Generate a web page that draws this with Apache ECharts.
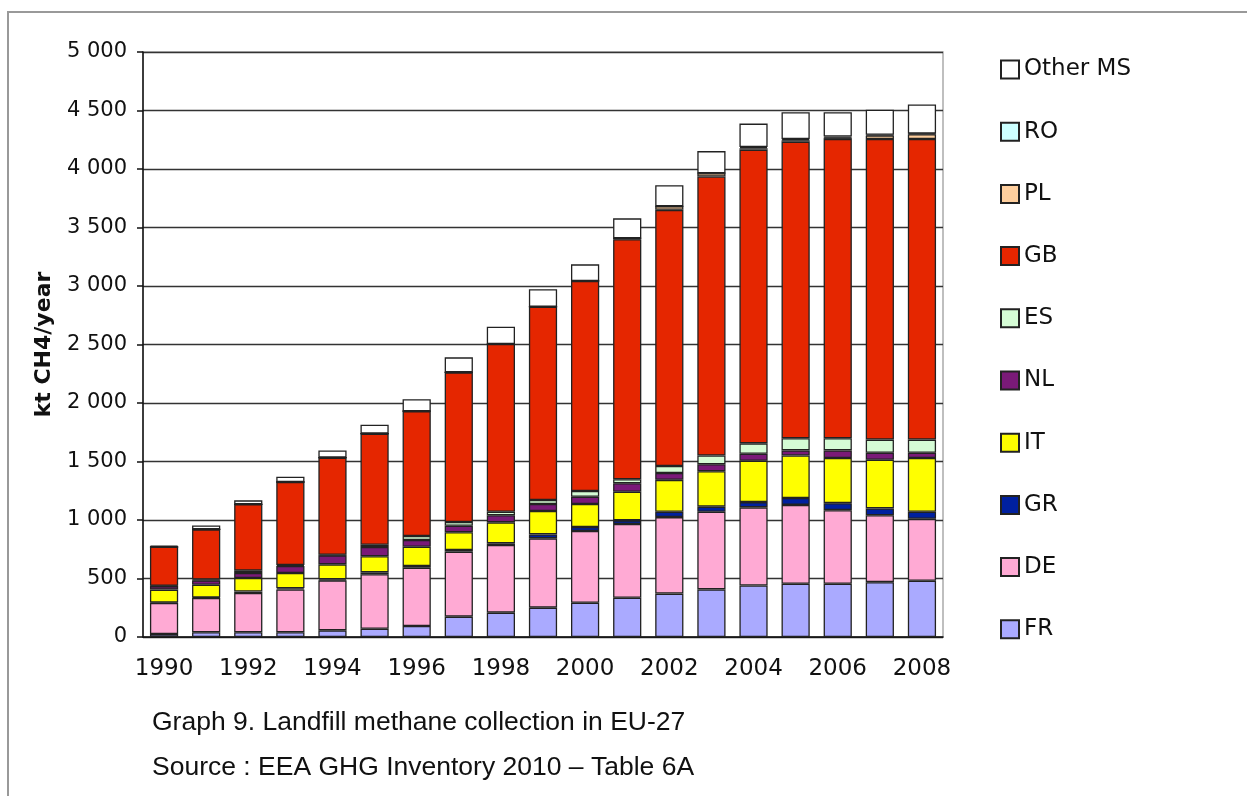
<!DOCTYPE html>
<html>
<head>
<meta charset="utf-8">
<script src="https://cdn.jsdelivr.net/npm/echarts@6/dist/echarts.min.js"></script>
<style>
  html, body { margin: 0; padding: 0; background: #fff; }
  #chart { width: 1247px; height: 796px; }
</style>
</head>
<body>
<div id="chart"></div>
<script>
// Landfill methane collection in EU-27, kt CH4 per year, by member state
const years = ['1990','1991','1992','1993','1994','1995','1996','1997','1998','1999',
               '2000','2001','2002','2003','2004','2005','2006','2007','2008'];

const FR = [25, 40, 40, 40, 57, 71, 94, 174, 208, 251, 293, 336, 371, 407, 440, 455, 455, 469, 481];
const DE = [266, 293, 336, 367, 427, 465, 499, 555, 578, 592, 613, 630, 654, 663, 668, 674, 629, 571, 529];
const GR = [3, 5, 12, 10, 9, 17, 14, 15, 15, 34, 34, 31, 45, 44, 45, 59, 60, 59, 60];
const IT = [111, 109, 116, 130, 128, 137, 165, 151, 179, 200, 197, 245, 273, 303, 353, 363, 386, 416, 460];
const NL = [30, 37, 43, 60, 77, 79, 57, 56, 60, 60, 62, 72, 59, 59, 60, 44, 65, 60, 45];
const ES = [3, 8, 20, 8, 5, 20, 34, 32, 31, 34, 49, 34, 60, 75, 89, 104, 104, 112, 112];
const GB = [333, 428, 567, 710, 830, 949, 1067, 1279, 1433, 1652, 1795, 2051, 2189, 2385, 2510, 2534, 2558, 2570, 2570];
const PL = [0, 0, 0, 0, 0, 0, 0, 0, 0, 0, 0, 8, 30, 28, 12, 12, 12, 30, 40];
const RO = [0, 0, 0, 0, 0, 0, 0, 0, 0, 0, 0, 0, 0, 0, 10, 10, 8, 5, 5];
const OTHER = [9, 34, 34, 45, 62, 77, 102, 128, 148, 149, 142, 171, 181, 189, 201, 231, 209, 215, 249];

const yTicks = [0, 500, 1000, 1500, 2000, 2500, 3000, 3500, 4000, 4500, 5000];

// stacked bottom to top
const seriesDefs = [
  { name: 'FR', data: FR, color: '#aaaaff' },
  { name: 'DE', data: DE, color: '#ffaad4' },
  { name: 'GR', data: GR, color: '#00209f' },
  { name: 'IT', data: IT, color: '#ffff00' },
  { name: 'NL', data: NL, color: '#7a1a78' },
  { name: 'ES', data: ES, color: '#d5fcd5' },
  { name: 'GB', data: GB, color: '#e52600' },
  { name: 'PL', data: PL, color: '#ffcf9e' },
  { name: 'RO', data: RO, color: '#ccffff' },
  { name: 'Other MS', data: OTHER, color: '#ffffff' }
];

const FONT = 'Verdana, "DejaVu Sans", sans-serif';
const CAPTION_FONT = 'Arial, "Liberation Sans", sans-serif';

const chart = echarts.init(document.getElementById('chart'), null, { renderer: 'canvas' });

chart.setOption({
  animation: false,
  backgroundColor: '#fff',
  grid: {
    left: 143, right: 304, top: 52, bottom: 159,
    show: true, borderColor: '#aaa', borderWidth: 1.5
  },
  legend: {
    orient: 'vertical',
    left: 995, top: 53,
    itemWidth: 18, itemHeight: 18,
    itemGap: 39.2,
    icon: 'rect',
    data: seriesDefs.map(s => s.name).reverse(),
    textStyle: { fontFamily: FONT, fontSize: 23, color: '#111' }
  },
  xAxis: {
    type: 'category',
    data: years,
    axisLine: { lineStyle: { color: '#111', width: 1.5 } },
    axisTick: { interval: 0, length: 6, lineStyle: { color: '#111', width: 1.5 } },
    axisLabel: { interval: 1, margin: 21, fontFamily: FONT, fontSize: 23, color: '#111' },
    splitLine: { show: false }
  },
  yAxis: {
    type: 'value',
    min: yTicks[0], max: yTicks[yTicks.length - 1], interval: 500,
    name: 'kt CH4/year',
    nameLocation: 'middle',
    nameGap: 88,
    nameRotate: 90,
    nameTextStyle: { fontFamily: FONT, fontSize: 22, fontWeight: 'bold', color: '#111' },
    axisLine: { show: true, lineStyle: { color: '#111', width: 1.5 } },
    axisTick: { show: true, length: 6, lineStyle: { color: '#111', width: 1.5 } },
    axisLabel: {
      margin: 16, fontFamily: FONT, fontSize: 21, color: '#111',
      formatter: v => String(v).replace(/\B(?=(\d{3})+(?!\d))/g, ' ')
    },
    splitLine: { lineStyle: { color: '#333', width: 1.3 } }
  },
  series: seriesDefs.map(s => ({
    name: s.name,
    type: 'bar',
    stack: 'total',
    data: s.data,
    barCategoryGap: '33%',
    itemStyle: { color: s.color, borderColor: '#222', borderWidth: 1.3 }
  })),
  graphic: [
    {
      type: 'rect', z: -10, silent: true,
      shape: { x: 8, y: 12, width: 1400, height: 900 },
      style: { fill: 'none', stroke: '#999', lineWidth: 2 }
    },
    {
      type: 'text', left: 152, top: 709,
      style: { text: 'Graph 9. Landfill methane collection in EU-27', fontFamily: CAPTION_FONT, fontSize: 26.5, fill: '#111' }
    },
    {
      type: 'text', left: 152, top: 754,
      style: { text: 'Source : EEA GHG Inventory 2010 \u2013 Table 6A', fontFamily: CAPTION_FONT, fontSize: 26.5, fill: '#111' }
    }
  ]
});
</script>
</body>
</html>
